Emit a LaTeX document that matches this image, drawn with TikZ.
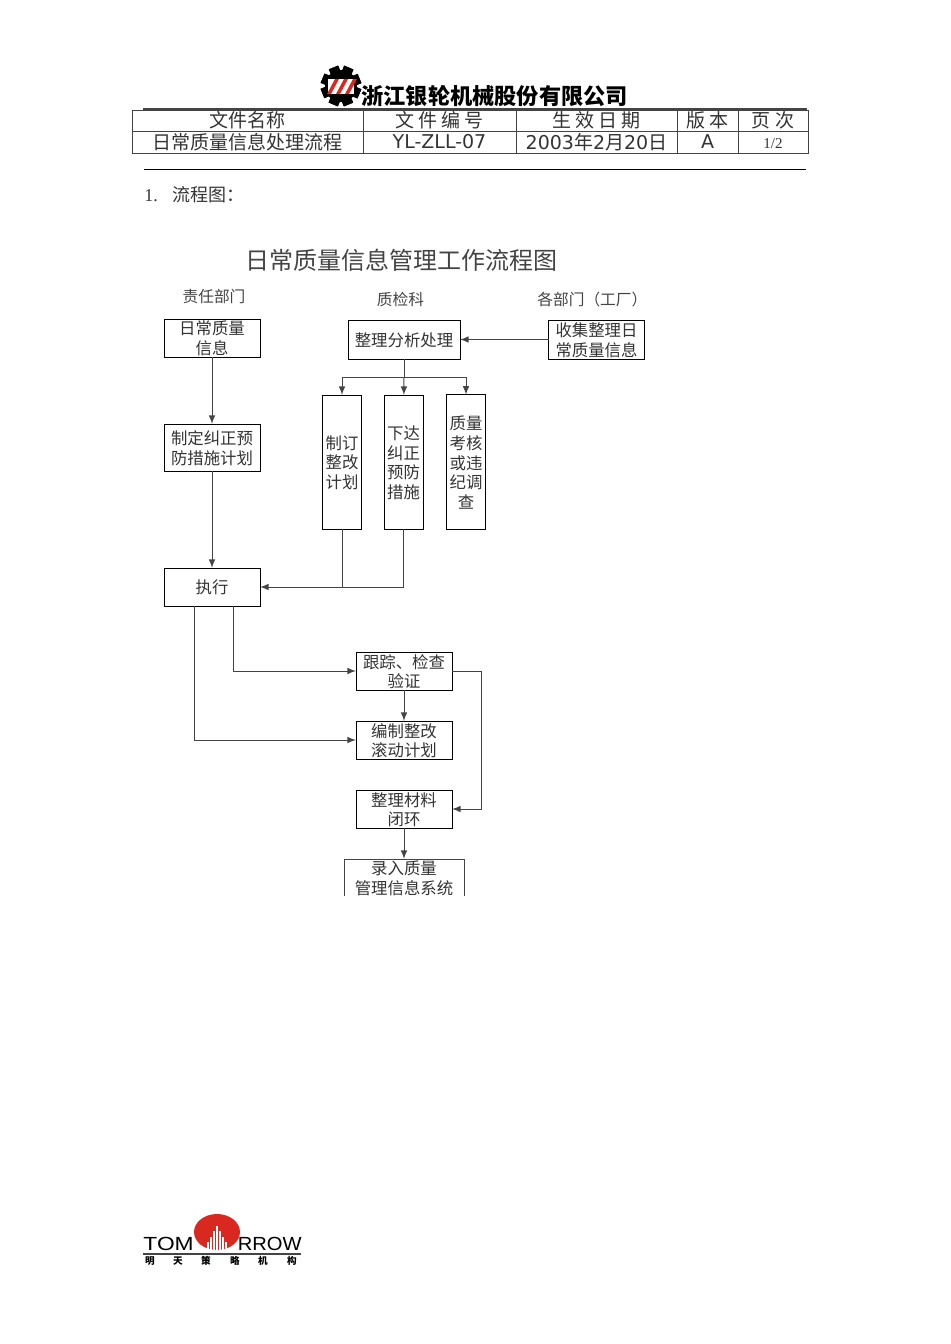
\documentclass[tikz,border=0pt]{standalone}
\usepackage{fontspec}
\setmainfont{Noto Sans CJK SC}
\newfontfamily\latinfont{DejaVu Sans}
\newfontfamily\seriffont{Liberation Serif}
\newfontfamily\logofont{Liberation Sans}
\usetikzlibrary{arrows}
\definecolor{linegray}{HTML}{444444}
\definecolor{textgray}{HTML}{333333}
\definecolor{logored}{HTML}{D8281F}
\newcommand{\boxtext}[1]{\raisebox{-3.4pt}[0pt][0pt]{\begin{tabular}[c]{@{}c@{}}#1\end{tabular}}}
\tikzset{
	flowbox/.style={draw=black,line width=0.5pt,inner sep=0pt,outer sep=0pt,text=textgray,font=\fontsize{8.2}{9.6}\selectfont},
	widebox/.style={flowbox,minimum width=48pt,minimum height=19pt},
	tallbox/.style={flowbox,minimum width=19.5pt,minimum height=67pt},
	cell/.style={draw=linegray,line width=0.5pt,inner sep=0pt,outer sep=0pt,minimum height=10.75pt,text=textgray,font=\fontsize{9.5}{11}\selectfont},
	lanelabel/.style={inner sep=0pt,text=linegray,font=\fontsize{7.85}{9}\selectfont},
	flow/.style={draw=linegray,line width=0.5pt},
	arrowflow/.style={flow,-latex},
}
\begin{document}
\begin{tikzpicture}[x=0.5pt,y=-0.5pt]
	\useasboundingbox (0,0) rectangle (950,1344);

	% company logo
	\foreach \a in {0,45,...,315}
		\fill[black,rotate around={\a+22:(341,86)}] (336,66) rectangle (346,106);
	\fill[black] (341,86) circle (16);
	\fill[white] (328,79) rectangle (354,94);
	\foreach \s in {0,9,18}
		\fill[logored] (327+\s,94) -- (335+\s,79) -- (339+\s,79) -- (331+\s,94) -- cycle;
	\node[inner sep=0pt,anchor=west] (company) at (361,96) {\fontsize{11.1}{13}\selectfont\bfseries 浙江银轮机械股份有限公司};

	% file table
	\draw[linegray,line width=1pt] (143,109) -- (807,109);
	\node[cell,minimum width=115.5pt] (nameHead) at (247.5,120.75) {\boxtext{文件名称}};
	\node[cell,minimum width=76.5pt] (codeHead) at (439.5,120.75) {\boxtext{文 件 编 号}};
	\node[cell,minimum width=80.5pt] (dateHead) at (596.5,120.75) {\boxtext{生 效 日 期}};
	\node[cell,minimum width=30.5pt] (verHead) at (707.5,120.75) {\boxtext{版 本}};
	\node[cell,minimum width=35pt] (pageHead) at (773,120.75) {\boxtext{页 次}};
	\node[cell,minimum width=115.5pt] (nameCell) at (247.5,142.25) {\boxtext{日常质量信息处理流程}};
	\node[cell,minimum width=76.5pt] (codeCell) at (439.5,142.25) {\boxtext{\latinfont YL-ZLL-07}};
	\node[cell,minimum width=80.5pt] (dateCell) at (596.5,142.25) {\boxtext{{\latinfont 2003}年{\latinfont 2}月{\latinfont 20}日}};
	\node[cell,minimum width=30.5pt] (verCell) at (707.5,142.25) {\boxtext{\latinfont A}};
	\node[cell,minimum width=35pt] (pageCell) at (773,142.25) {\boxtext{\seriffont\fontsize{7.5}{9}\selectfont 1/2}};
	\draw[black,line width=0.6pt] (144,169.5) -- (806,169.5);
	\node[inner sep=0pt,anchor=west,text=textgray,font=\fontsize{9}{11}\selectfont] (heading) at (144,195) {{\seriffont 1.}\hspace{7.5pt}流程图：};

	% flow chart, cut off at its lower and right edge
	\begin{scope}
		\clip (150,240) rectangle (641,895);
		\node[inner sep=0pt,text=linegray,font=\fontsize{12}{14}\selectfont] (chartTitle) at (401.5,260) {日常质量信息管理工作流程图};
		\node[lanelabel] (laneA) at (214,297) {责任部门};
		\node[lanelabel] (laneB) at (400.5,299) {质检科};
		\node[lanelabel,anchor=west] (laneC) at (537,300) {各部门（工厂）};
	\end{scope}
	\begin{scope}
		\clip (150,300) rectangle (650,895);
		\node[widebox] (dailyInfo) at (212,338) {\boxtext{日常质量\\信息}};
		\node[widebox,minimum height=23.5pt] (planBox) at (212,447.5) {\boxtext{制定纠正预\\防措施计划}};
		\node[widebox] (execBox) at (212,587) {\boxtext{执行}};
		\node[flowbox,minimum width=56pt,minimum height=19.5pt] (analysis) at (404,339.5) {\boxtext{整理分析处理}};
		\node[widebox,minimum height=19.5pt] (collect) at (596.5,339.5) {\boxtext{收集整理日\\常质量信息}};
		\node[tallbox] (rectifyPlan) at (342,462) {\boxtext{制订\\整改\\计划}};
		\node[tallbox] (issueBox) at (403.5,462) {\boxtext{下达\\纠正\\预防\\措施}};
		\node[tallbox,minimum height=67.5pt] (assessBox) at (466,462.25) {\boxtext{质量\\考核\\或违\\纪调\\查}};
		\node[widebox] (trackBox) at (404,671) {\boxtext{跟踪、检查\\验证}};
		\node[widebox] (rollBox) at (404,740) {\boxtext{编制整改\\滚动计划}};
		\node[widebox] (closeBox) at (404,809) {\boxtext{整理材料\\闭环}};
		\node[flowbox,draw=linegray,minimum width=60pt,minimum height=19pt] (entryBox) at (404,878) {\boxtext{录入质量\\管理信息系统}};
	\end{scope}

	\coordinate (branch) at (404,377);
	\coordinate (merge) at (342,587);
	\coordinate (turnTrack) at (233,671);
	\coordinate (turnRoll) at (194,740);
	\coordinate (turnClose) at (481,671);

	\draw[arrowflow] (dailyInfo) -- (planBox);
	\draw[arrowflow] (planBox) -- (execBox);
	\draw[arrowflow] (collect) -- (analysis);
	\draw[flow] (analysis) -- (branch);
	\draw[arrowflow] (branch) -- (issueBox);
	\draw[arrowflow] (branch) -| (rectifyPlan);
	\draw[arrowflow] (branch) -| (assessBox);
	\draw[flow] (rectifyPlan) -- (merge);
	\draw[arrowflow] (issueBox.south) |- (execBox.east);
	\draw[arrowflow] (turnTrack |- execBox.south) -- (turnTrack) -- (trackBox);
	\draw[arrowflow] (turnRoll |- execBox.south) -- (turnRoll) -- (rollBox);
	\draw[arrowflow] (trackBox) -- (rollBox);
	\draw[arrowflow] (trackBox) -- (turnClose) |- (closeBox);
	\draw[arrowflow] (closeBox) -- (entryBox);

	% tomorrow logo
	\begin{scope}
		\clip (190,1210) rectangle (244,1250);
		\fill[logored] (217,1232) ellipse (23 and 18);
	\end{scope}
	\foreach \x/\h in {208/8,211/13,214/19,217/24,220/19,223/13,226/8}
		\fill[white] (\x-0.6,1250) rectangle (\x+0.6,1250-\h);
	\node[inner sep=0pt,anchor=south west,text=black,xscale=1.2,font=\logofont\fontsize{9.5}{10}\selectfont] (logoLeft) at (143,1251) {TOM};
	\node[inner sep=0pt,anchor=south east,text=black,xscale=1.06,font=\logofont\fontsize{9.5}{10}\selectfont] (logoRight) at (302,1251) {RROW};
	\draw[linegray,line width=1pt] (143,1253.5) -- (301,1253.5);
	\foreach \x/\t in {150/明,178/天,206/策,235/略,263/机,292/构}
		\node[inner sep=0pt,font=\fontsize{4.8}{5}\selectfont\bfseries] at (\x,1261) {\t};
\end{tikzpicture}
\end{document}
